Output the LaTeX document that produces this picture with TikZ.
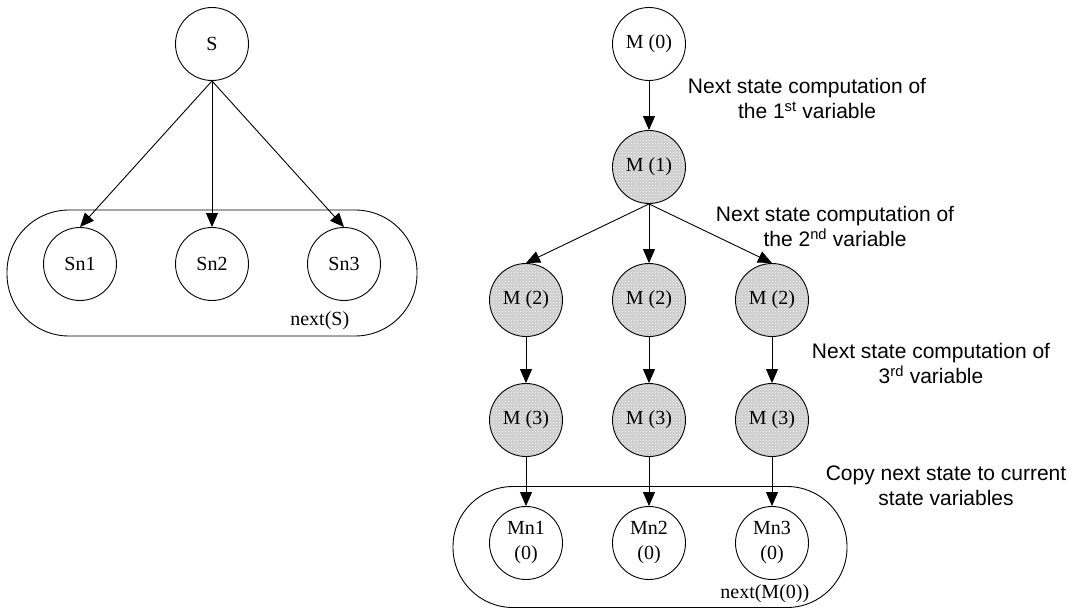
\documentclass[tikz,border=0pt]{standalone}
\usepackage{fontspec}
\setmainfont{Liberation Serif}
\setsansfont{Liberation Sans}
\usepackage{tikz}
\usetikzlibrary{arrows.meta,patterns}

\begin{document}
\begin{tikzpicture}[->,>={Triangle[length=14pt,width=12pt]},x=1pt,y=-1pt,
                    line width=0.9pt,every node/.style={font=\fontsize{20}{25}\selectfont}]
  \tikzstyle{state}=[circle,draw=black,minimum size=73pt,inner sep=0pt]
  \tikzstyle{busy}=[state,preaction={fill=gray!40},pattern=crosshatch dots,pattern color=white]
  \tikzstyle{group}=[draw=black,minimum width=410pt,minimum height=126pt,rounded corners=62pt]
  \tikzstyle{note}=[font=\sffamily\fontsize{21}{25}\selectfont,align=center,anchor=north,inner sep=0pt]
  \useasboundingbox (0,0) rectangle (1073,613);

  % next(S) in one step
  \node[state] (S)                                    at (212,44) {S};
  \node[state] (Sn2) [node distance=220pt,below of=S]   {Sn2};
  \node[state] (Sn1) [node distance=132pt,left of=Sn2]  {Sn1};
  \node[state] (Sn3) [node distance=132pt,right of=Sn2] {Sn3};
  \node[group] (nextS)                                at (212,273) {};
  \node[anchor=base east] (labS)                      at (353,325) {next(S)};

  % next(M(0)) one variable at a time
  \node[state] (M0)                                    at (649,44) {M (0)};
  \node[busy]  (M1)  [node distance=123pt,below of=M0]  {M (1)};
  \node[busy]  (M22) [node distance=133pt,below of=M1]  {M (2)};
  \node[busy]  (M21) [node distance=123pt,left of=M22]  {M (2)};
  \node[busy]  (M23) [node distance=123pt,right of=M22] {M (2)};
  \node[busy]  (M31) [node distance=120pt,below of=M21] {M (3)};
  \node[busy]  (M32) [node distance=120pt,below of=M22] {M (3)};
  \node[busy]  (M33) [node distance=120pt,below of=M23] {M (3)};
  \node[state,align=center] (Mn1) [node distance=123pt,below of=M31] {Mn1\\(0)};
  \node[state,align=center] (Mn2) [node distance=123pt,below of=M32] {Mn2\\(0)};
  \node[state,align=center] (Mn3) [node distance=123pt,below of=M33] {Mn3\\(0)};
  \node[group,minimum width=394pt,minimum height=121pt,rounded corners=60pt] (nextM) at (650,547) {};
  \node[anchor=base east] (labM)                      at (813,598) {next(M(0))};

  \node[note] (v1) at (807,78)  {Next state computation of\\the 1\textsuperscript{st} variable};
  \node[note] (v2) at (835,206) {Next state computation of\\the 2\textsuperscript{nd} variable};
  \node[note] (v3) at (931,343) {Next state computation of\\3\textsuperscript{rd} variable};
  \node[note] (v4) at (946,465) {Copy next state to current\\state variables};

  \path (S.south) edge (Sn1.north)
        (S.south) edge (Sn2.north)
        (S.south) edge (Sn3.north)
        (M0.south) edge (M1.north)
        (M1.south) edge (M21.north)
        (M1.south) edge (M22.north)
        (M1.south) edge (M23.north)
        (M21.south) edge (M31.north)
        (M22.south) edge (M32.north)
        (M23.south) edge (M33.north)
        (M31.south) edge (Mn1.north)
        (M32.south) edge (Mn2.north)
        (M33.south) edge (Mn3.north);
\end{tikzpicture}
\end{document}
